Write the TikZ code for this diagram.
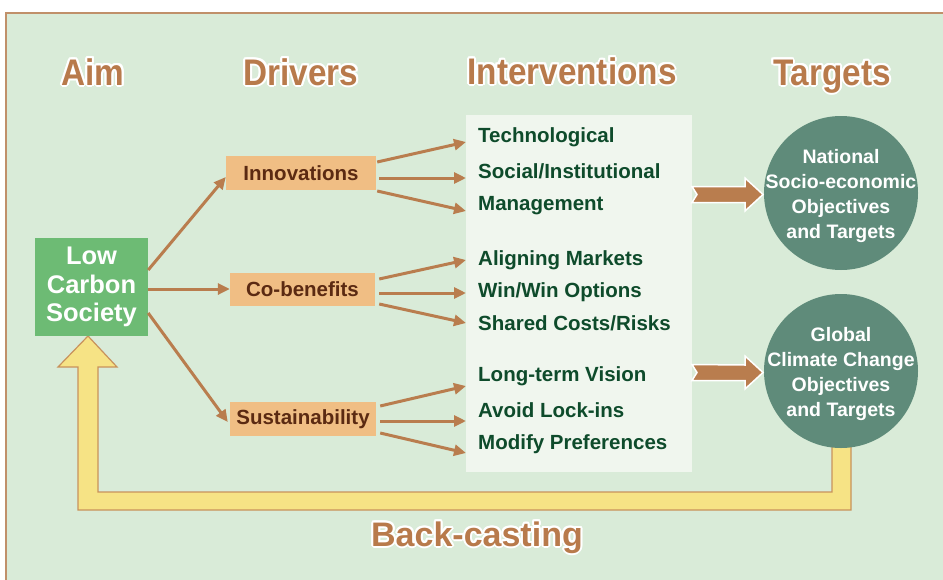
\documentclass[tikz,border=0pt]{standalone}
\usepackage{fontspec}
\setmainfont{Liberation Sans}
\newfontfamily\headfont[FakeStretch=0.9]{Liberation Sans}
\usepackage[copies]{contour}
\contourlength{2pt}
\usetikzlibrary{arrows.meta,calc}
\definecolor{bgc}{HTML}{D9EBD8}
\definecolor{framec}{HTML}{C0906A}
\definecolor{headc}{HTML}{B87A4B}
\definecolor{lcsc}{HTML}{6DBB74}
\definecolor{drvc}{HTML}{F0BE84}
\definecolor{drvtext}{HTML}{5B2A12}
\definecolor{panelc}{HTML}{F0F6EE}
\definecolor{intc}{HTML}{0E4B2B}
\definecolor{circc}{HTML}{5F8B7A}
\definecolor{yelc}{HTML}{F6E385}
\definecolor{yeledge}{HTML}{C8925C}
\definecolor{arrc}{HTML}{B97D4E}
\tikzset{
  heading/.style={font=\headfont\bfseries\fontsize{37}{40}\selectfont, text=headc, anchor=base, inner sep=0},
  driver/.style={fill=drvc, text=drvtext, font=\bfseries\fontsize{20.5}{24}\selectfont, inner sep=0, minimum height=34},
  item/.style={anchor=base west, text=intc, font=\bfseries\fontsize{20.5}{24}\selectfont, inner sep=0},
  target/.style={circle, fill=circc, minimum size=154, inner sep=0},
  targettext/.style={text=white, align=center, font=\bfseries\fontsize{19.5}{24.7}\selectfont, inner sep=0},
  arr/.style={draw=arrc, line width=3pt, -{Triangle[length=12pt,width=11pt]}},
  blockarrow/.style={fill=arrc, draw=white, line width=1.5pt, line join=miter},
}
\begin{document}
\begin{tikzpicture}[x=1pt,y=-1pt]
\useasboundingbox (0,0) rectangle (943,579);
\fill[white] (0,0) rectangle (943,579);
% frame
\draw[framec, line width=1.5pt, fill=bgc] (6,13) rectangle (952,590);

% headings
\node[heading] (haim) at (93,85) {\contour{white}{Aim}};
\node[heading] (hdrv) at (301,85) {\contour{white}{Drivers}};
\node[heading] (hint) at (572,84) {\contour{white}{Interventions}};
\node[heading] (htgt) at (832,85) {\contour{white}{Targets}};

% back-casting band (drawn under the circle)
\draw[fill=yelc, draw=yeledge, line width=1.2pt, line join=miter]
  (851,440) -- (851,510) -- (78,510) -- (78,367) -- (58,367) -- (88,336)
  -- (117,367) -- (98,367) -- (98,492) -- (832,492) -- (832,440) -- cycle;

\node[font=\bfseries\fontsize{34}{38}\selectfont, text=headc, anchor=base, inner sep=0] (back) at (477,546) {\contour{white}{Back-casting}};

% aim box
\node[fill=lcsc, text=white, align=center, minimum width=113, minimum height=98, inner sep=0,
      font=\bfseries\fontsize{25.5}{28.5}\selectfont] (lcs) at (91.5,287) {Low\\Carbon\\Society};

% drivers
\node[driver, minimum width=150] (innov) at (301,173) {Innovations};
\node[driver, minimum width=145, minimum height=33] (cob) at (302.5,289) {Co-benefits};
\node[driver, minimum width=146] (sust) at (303,419) {Sustainability};

% panel
\node[fill=panelc, minimum width=226, minimum height=357, inner sep=0] (panel) at (579,293.5) {};
\node[item] (i1) at (478,142.5) {Technological};
\node[item] (i2) at (478,178.5) {Social/Institutional};
\node[item] (i3) at (478,210.5) {Management};
\node[item] (i4) at (478,265.5) {Aligning Markets};
\node[item] (i5) at (478,297.5) {Win/Win Options};
\node[item] (i6) at (478,330.5) {Shared Costs/Risks};
\node[item] (i7) at (478,381.5) {Long-term Vision};
\node[item] (i8) at (478,417.5) {Avoid Lock-ins};
\node[item] (i9) at (478,449.5) {Modify Preferences};

\coordinate (t1) at (466,142);
\coordinate (t2) at (466,178);
\coordinate (t3) at (466,211);
\coordinate (t4) at (466,260);
\coordinate (t5) at (466,293);
\coordinate (t6) at (466,323);
\coordinate (t7) at (466,386);
\coordinate (t8) at (466,421);
\coordinate (t9) at (466,453);

% targets
\node[target] (nat) at (841,193) {};
\node[targettext] (natl) at (841,196) {National\\Socio-economic\\Objectives\\and Targets};
\node[target] (glob) at (841,371) {};
\node[targettext] (globl) at (841,374) {Global\\Climate Change\\Objectives\\and Targets};

% aim -> drivers
\draw[arr] ($(lcs.east)+(0,-17)$) -- ($(innov.west)+(0,4)$);
\draw[arr] ($(lcs.east)+(0,2)$) -- (cob.west);
\draw[arr] ($(lcs.east)+(0,26)$) -- ($(sust.west)+(-2,3)$);

% drivers -> interventions
\draw[arr] ($(innov.east)+(1,-11)$) -- (t1);
\draw[arr] ($(innov.east)+(3,5)$) -- (t2);
\draw[arr] ($(innov.east)+(1,18)$) -- (t3);
\draw[arr] ($(cob.east)+(4,-10)$) -- (t4);
\draw[arr] ($(cob.east)+(4,4)$) -- (t5);
\draw[arr] ($(cob.east)+(4,15)$) -- (t6);
\draw[arr] ($(sust.east)+(4,-13)$) -- (t7);
\draw[arr] ($(sust.east)+(4,2)$) -- (t8);
\draw[arr] ($(sust.east)+(4,14)$) -- (t9);

% block arrows to targets
\draw[blockarrow] (692,186.5) -- (697,194.5) -- (692,202.5) -- (745,202.5) -- (745,211) -- (763,194.5)
  -- (745,178) -- (745,186.5) -- cycle;
\draw[blockarrow] (692,364.5) -- (697,372.5) -- (692,380.5) -- (745,380.5) -- (745,389) -- (763,372.5)
  -- (745,356) -- (745,365) -- cycle;
\end{tikzpicture}
\end{document}
